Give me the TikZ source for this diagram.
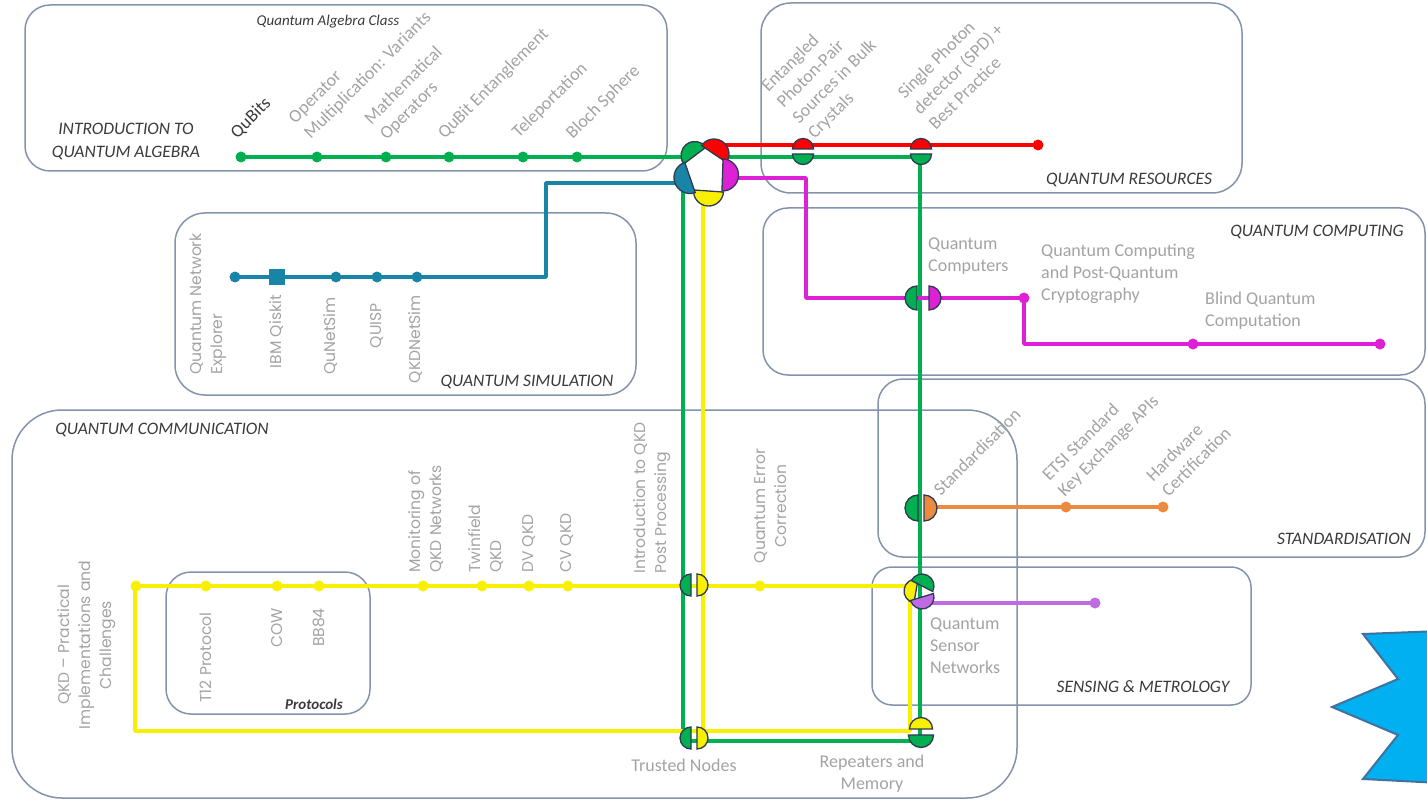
\documentclass[tikz,border=0pt]{standalone}
\usepackage{fontspec}
\setmainfont{Carlito}
\newfontfamily\geofont{Poppins}
\usepackage{xcolor}
\usetikzlibrary{calc}

\definecolor{zoneblue}{HTML}{8393AD}
\definecolor{labgrey}{HTML}{A3A3A3}
\definecolor{titlegrey}{HTML}{3A3A3A}
\definecolor{lgreen}{HTML}{00B050}
\definecolor{lred}{HTML}{FF0000}
\definecolor{lteal}{HTML}{1985A6}
\definecolor{lmag}{HTML}{DD22D6}
\definecolor{lyellow}{HTML}{F8F000}
\definecolor{lorange}{HTML}{EC8A40}
\definecolor{lpurple}{HTML}{BE6BE4}
\definecolor{tokenedge}{HTML}{2E3A52}
\definecolor{starblue}{HTML}{00B0F0}
\definecolor{staredge}{HTML}{41719C}

\tikzset{
	zone/.style={draw=zoneblue, line width=1.5pt, rounded corners=25pt},
	metro/.style={line width=3.5pt, line join=round},
	lab/.style={inner sep=0pt, text=labgrey, font=\fontsize{18}{22}\selectfont},
	geo/.style={inner sep=0pt, text=labgrey, font=\geofont\fontsize{15.6}{21}\selectfont},
	slant/.style={lab, rotate=45, anchor=south west, align=left},
	vert/.style={geo, rotate=90},
	heading/.style={inner sep=0pt, text=titlegrey, font=\itshape\fontsize{17.5}{23}\selectfont},
}

\newcommand{\halfdisc}[4]{\filldraw[fill=#4, draw=tokenedge, line width=1.3pt]
	($(#1)+({#2+90}:#3)$) arc[start angle={#2+90}, end angle={#2-90}, radius=#3] -- cycle;}
\newcommand{\stopdot}[2]{\fill[#1] (#2) circle[radius=5.5];}

\begin{document}
\begin{tikzpicture}[x=1pt, y=-1pt]
	\useasboundingbox (0,0) rectangle (1427,802);
	
	\draw[zone] (25,5) rectangle (667,171);
	\draw[zone, rounded corners=30pt] (761,3) rectangle (1242,193);
	\draw[zone, rounded corners=30pt] (175,213) rectangle (636,395);
	\draw[zone] (763,208) rectangle (1425,375);
	\draw[zone] (878,379) rectangle (1425,557);
	\draw[zone, rounded corners=50pt] (12,410) rectangle (1017,798);
	\draw[zone] (166,572) rectangle (370,714);
	\draw[zone, rounded corners=20pt] (872,567) rectangle (1251,705);
	
	\filldraw[fill=starblue, draw=staredge, line width=2pt] (1440,631) -- (1363,634) -- (1398,679) -- (1332,707) -- (1398,735) -- (1363,779) -- (1440,783);
	
	\coordinate (hub) at (706,172);
	\coordinate (qb) at (241,157);
	\coordinate (op) at (317,157);
	\coordinate (ma) at (386,157);
	\coordinate (qe) at (449,157);
	\coordinate (tp) at (523,157);
	\coordinate (bs) at (577,157);
	\coordinate (gturn) at (920,157);
	\coordinate (repeat) at (920,741);
	\coordinate (gleft) at (683,741);
	\coordinate (gright) at (930,741);
	\coordinate (ghub) at (683,180);
	
	\coordinate (rhub) at (714,145);
	\coordinate (redend) at (1038,145);
	
	\coordinate (thub) at (690,183);
	\coordinate (tturn) at (546,183);
	\coordinate (tdown) at (546,277);
	\coordinate (qne) at (235,277);
	\coordinate (ibm) at (277,277);
	\coordinate (qns) at (336,277);
	\coordinate (qsp) at (377,277);
	\coordinate (qkdns) at (417,277);
	
	\coordinate (mhub) at (722,178);
	\coordinate (mturn) at (806,178);
	\coordinate (mdown) at (806,298);
	\coordinate (qcpq) at (1024,298);
	\coordinate (mdrop) at (1024,344);
	\coordinate (bqc) at (1193,344);
	\coordinate (mend) at (1380,344);
	
	\coordinate (yhub) at (703,180);
	\coordinate (ytrust) at (703,737);
	\coordinate (ytl) at (135,586);
	\coordinate (ytr) at (910,586);
	\coordinate (ybr) at (910,731);
	\coordinate (ybl) at (135,731);
	
	\coordinate (ostart) at (925,507);
	\coordinate (etsi) at (1066,507);
	\coordinate (hw) at (1163,507);
	\coordinate (pstart) at (925,603);
	\coordinate (pend) at (1095,603);
	
	\draw[metro, lgreen] (qb) -- (gturn) -- (repeat);
	\draw[metro, lgreen] (ghub) -- (gleft) -- (gright);
	\draw[metro, lred, line width=4.5pt] (rhub) -- (redend);
	\draw[metro, lteal] (thub) -- (tturn) -- (tdown) -- (qne);
	\draw[metro, lmag] (mhub) -- (mturn) -- (mdown) -- (qcpq) -- (mdrop) -- (mend);
	\draw[metro, lyellow] (ytl) -- (ytr) -- (ybr) -- (ybl) -- cycle;
	\draw[metro, lyellow] (yhub) -- (ytrust);
	\draw[metro, lorange] (ostart) -- (hw);
	\draw[metro, lpurple] (pstart) -- (pend);
	
	\foreach \s in {qb, op, ma, qe, tp, bs} \stopdot{lgreen}{\s};
	\foreach \s in {qne, qns, qsp, qkdns} \stopdot{lteal}{\s};
	\fill[lteal] (ibm) +(-8,-8) rectangle +(8,8);
	\foreach \s in {qcpq, bqc, mend} \stopdot{lmag}{\s};
	\stopdot{lred}{redend};
	\foreach \s in {etsi, hw} \stopdot{lorange}{\s};
	\stopdot{lpurple}{pend};
	\foreach \x in {136, 206, 277, 319, 423, 482, 529, 568, 760} \stopdot{lyellow}{\x,586};
	
	\fill[white] (685,163) -- (705,148) -- (723,160) -- (722,190) -- (695,192) -- cycle;
	\halfdisc{695,155.5}{-127}{14}{lgreen}
	\halfdisc{714,154}{-56}{15}{lred}
	\halfdisc{722.5,175}{2}{16}{lmag}
	\halfdisc{708.5,191}{94}{15}{lyellow}
	\halfdisc{690,177.5}{161}{16}{lteal}
	
	\halfdisc{803,149}{-90}{10.5}{lred}
	\halfdisc{803,154}{90}{10.5}{lgreen}
	\halfdisc{921,149}{-90}{10.5}{lred}
	\halfdisc{921,154}{90}{10.5}{lgreen}
	\halfdisc{917,298}{180}{12}{lgreen}
	\halfdisc{929,298}{0}{12}{lmag}
	\halfdisc{918,508}{180}{13}{lgreen}
	\halfdisc{924,508}{0}{13}{lorange}
	\halfdisc{691,585}{180}{11}{lgreen}
	\halfdisc{697,585}{0}{11}{lyellow}
	\halfdisc{691,738}{180}{11}{lgreen}
	\halfdisc{697,738}{0}{11}{lyellow}
	\halfdisc{916,591}{190}{12}{lyellow}
	\halfdisc{922,586}{-63}{12}{lgreen}
	\halfdisc{922,597}{73}{12}{lpurple}
	\halfdisc{921,729}{-90}{11.5}{lyellow}
	\halfdisc{921,735}{90}{12.5}{lgreen}
	
	\node[heading, font=\itshape\fontsize{15}{18}\selectfont] (algclass) at (328,22) {Quantum Algebra Class};
	\node[heading, align=center] (algname) at (126,141) {INTRODUCTION TO\\QUANTUM ALGEBRA};
	\node[slant, text=titlegrey] (qbl) at (239,141) {QuBits};
	\node[slant] (opl) at (313,142) {Operator\\Multiplication: Variants};
	\node[slant] (mal) at (389,143) {Mathematical\\Operators};
	\node[slant] (qel) at (447,142) {QuBit Entanglement};
	\node[slant] (tpl) at (521,141) {Teleportation};
	\node[slant] (bsl) at (575,142) {Bloch Sphere};
	
	\node[slant] (entl) at (817,142) {Entangled\\Photon-Pair\\Sources in Bulk\\Crystals};
	\node[slant] (spdl) at (936,131) {Single Photon\\detector (SPD) +\\Best Practice};
	\node[heading] (resname) at (1129,180) {QUANTUM RESOURCES};
	
	\node[vert, anchor=south west, align=left] (qnel) at (227,375) {Quantum Network\\Explorer};
	\node[vert, anchor=east] (ibml) at (277,295) {IBM Qiskit};
	\node[vert, anchor=east] (qnsl) at (331,297) {QuNetSim};
	\node[vert, anchor=east] (qspl) at (377,303) {QUISP};
	\node[vert, anchor=east] (qkdnsl) at (416,295) {QKDNetSim};
	\node[heading] (simname) at (527,382) {QUANTUM SIMULATION};
	
	\node[heading] (compname) at (1317,232) {QUANTUM COMPUTING};
	\node[lab, anchor=north west, align=left] (qcompl) at (928,238) {Quantum\\Computers};
	\node[lab, anchor=north west, align=left] (qcpql) at (1041,244) {Quantum Computing\\and Post-Quantum\\Cryptography};
	\node[lab, anchor=north west, align=left] (bqcl) at (1205,292) {Blind Quantum\\Computation};
	
	\node[slant] (stdl) at (941,497) {Standardisation};
	\node[slant] (etsil) at (1067,500) {ETSI Standard\\Key Exchange APIs};
	\node[slant] (hwl) at (1169,498) {Hardware\\Certification};
	\node[heading] (stdname) at (1344,539) {STANDARDISATION};
	
	\node[heading] (commname) at (162,430) {QUANTUM COMMUNICATION};
	\node[vert, align=center] (qkdl) at (87,645) {QKD – Practical\\Implementations and\\Challenges};
	\node[vert, anchor=east] (t12l) at (206,612) {T12 Protocol};
	\node[vert, anchor=east] (cowl) at (277,608) {COW};
	\node[vert, anchor=east] (bb84l) at (319,608) {BB84};
	\node[heading, font=\bfseries\itshape\fontsize{15}{18}\selectfont] (protname) at (314,704) {Protocols};
	\node[vert, anchor=south west, align=left] (monl) at (444,573) {Monitoring of\\QKD Networks};
	\node[vert, anchor=south west, align=left] (twinl) at (504,573) {Twinfield\\QKD};
	\node[vert, anchor=west] (dvl) at (529,573) {DV QKD};
	\node[vert, anchor=west] (cvl) at (567,573) {CV QKD};
	\node[vert, anchor=south west, align=left] (introl) at (671,574) {Introduction to QKD\\Post Processing};
	\node[vert, align=center] (qecl) at (771,506) {Quantum Error\\Correction};
	\node[lab] (trustl) at (684,765) {Trusted Nodes};
	\node[lab, align=center] (repl) at (872,774) {Repeaters and\\Memory};
	
	\node[lab, anchor=north west, align=left] (sensl) at (930,618) {Quantum\\Sensor\\Networks};
	\node[heading] (sensname) at (1143,687) {SENSING \& METROLOGY};
\end{tikzpicture}
\end{document}
